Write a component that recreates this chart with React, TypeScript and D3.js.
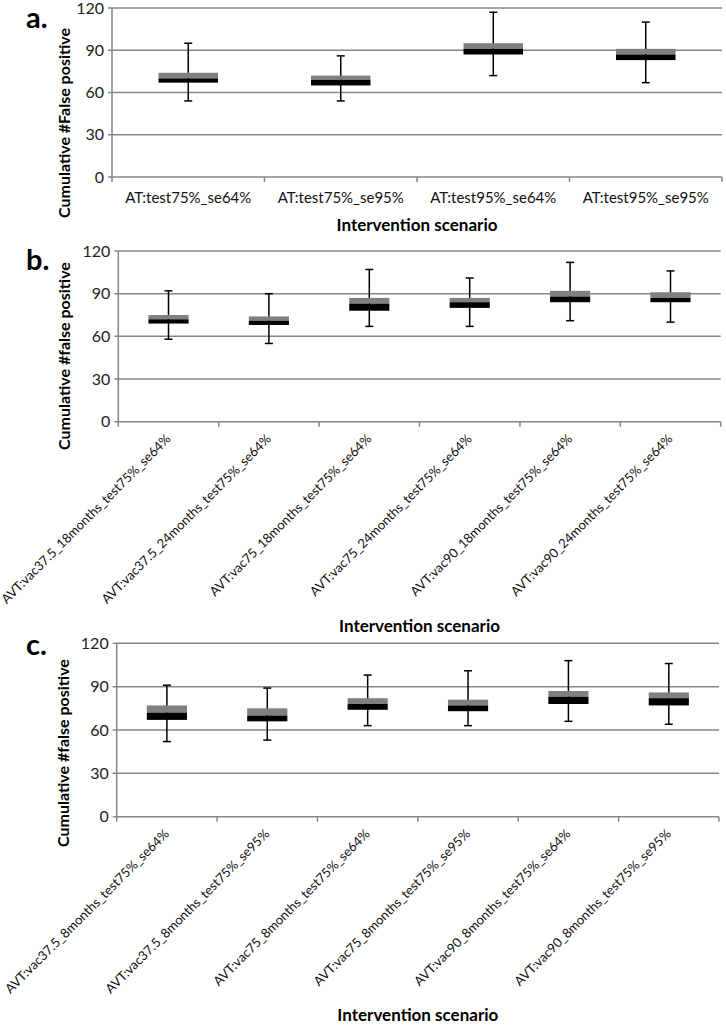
import React from "react";
import * as d3 from "d3";

// ---------- Data ----------
const yTicks = [0, 30, 60, 90, 120];

const catsA = ["AT:test75%_se64%", "AT:test75%_se95%", "AT:test95%_se64%", "AT:test95%_se95%"];
const minA = [54, 54, 72, 67];
const q1A = [67, 65, 87, 83];
const medA = [70, 69, 91, 87];
const q3A = [74, 72, 95, 91];
const maxA = [95, 86, 117, 110];

const catsB = [
  "AVT:vac37.5_18months_test75%_se64%",
  "AVT:vac37.5_24months_test75%_se64%",
  "AVT:vac75_18months_test75%_se64%",
  "AVT:vac75_24months_test75%_se64%",
  "AVT:vac90_18months_test75%_se64%",
  "AVT:vac90_24months_test75%_se64%",
];
const minB = [58, 55, 67, 67, 71, 70];
const q1B = [69, 68, 78, 80, 84, 84];
const medB = [72, 71, 83, 84, 88, 87];
const q3B = [75, 74, 87, 87, 92, 91];
const maxB = [92, 90, 107, 101, 112, 106];

const catsC = [
  "AVT:vac37.5_8months_test75%_se64%",
  "AVT:vac37.5_8months_test75%_se95%",
  "AVT:vac75_8months_test75%_se64%",
  "AVT:vac75_8months_test75%_se95%",
  "AVT:vac90_8months_test75%_se64%",
  "AVT:vac90_8months_test75%_se95%",
];
const minC = [52, 53, 63, 63, 66, 64];
const q1C = [67, 66, 74, 73, 78, 77];
const medC = [72, 70, 78, 77, 83, 82];
const q3C = [77, 75, 82, 81, 87, 86];
const maxC = [91, 89, 98, 101, 108, 106];

const FONT = "Lato, 'Open Sans', sans-serif";
const GRID = "#868686";
const GREY = "#808080";

type PanelProps = {
  letter: string;
  cats: string[];
  mins: number[];
  q1s: number[];
  meds: number[];
  q3s: number[];
  maxs: number[];
  left: number;
  right: number;
  top: number;
  bottom: number;
  rotated: boolean;
  yTitle: string;
  yTitleCenter: number;
  yTitleX: number;
  xTitleY: number;
  letterY: number;
  boxFrac: number;
};

function Panel(p: PanelProps) {
  const x = d3.scaleBand<string>().domain(p.cats).range([p.left, p.right]).paddingInner(0).paddingOuter(0);
  const y = d3.scaleLinear().domain([0, 120]).range([p.bottom, p.top]);
  const bw = x.bandwidth() * p.boxFrac;
  const boundaries = [...p.cats.map((c) => x(c) as number), p.right];
  const capW = 8;

  return (
    <g>
      <text x={26} y={p.letterY} fontFamily={FONT} fontWeight="bold" fontSize={29} fill="#000">
        {p.letter}
      </text>
      {/* gridlines */}
      {yTicks.map((t) => (
        <g key={t}>
          <line x1={p.left - 4} x2={p.right} y1={y(t)} y2={y(t)} stroke={GRID} strokeWidth={1.5} />
          <text
            x={p.left - 8}
            y={y(t)}
            dy="0.35em"
            textAnchor="end"
            fontFamily={FONT}
            fontSize={16}
            fill="#222"
          >
            {t}
          </text>
        </g>
      ))}
      {/* y axis line */}
      <line x1={p.left} x2={p.left} y1={p.top} y2={p.bottom} stroke={GRID} strokeWidth={1.5} />
      {/* category ticks */}
      {boundaries.map((b, i) => (
        <line key={i} x1={b} x2={b} y1={p.bottom} y2={p.bottom + 5} stroke={GRID} strokeWidth={1.5} />
      ))}
      {/* whiskers */}
      {p.cats.map((c, i) => {
        const cx = (x(c) as number) + x.bandwidth() / 2;
        return (
          <g key={"w" + i} stroke="#000" strokeWidth={1.5}>
            <line x1={cx} x2={cx} y1={y(p.maxs[i])} y2={y(p.mins[i])} />
            <line x1={cx - capW / 2} x2={cx + capW / 2} y1={y(p.maxs[i])} y2={y(p.maxs[i])} />
            <line x1={cx - capW / 2} x2={cx + capW / 2} y1={y(p.mins[i])} y2={y(p.mins[i])} />
          </g>
        );
      })}
      {/* boxes */}
      {p.cats.map((c, i) => {
        const cx = (x(c) as number) + x.bandwidth() / 2;
        return (
          <g key={"b" + i}>
            <rect x={cx - bw / 2} width={bw} y={y(p.q3s[i])} height={y(p.meds[i]) - y(p.q3s[i])} fill={GREY} />
            <rect x={cx - bw / 2} width={bw} y={y(p.meds[i])} height={y(p.q1s[i]) - y(p.meds[i])} fill="#000" />
          </g>
        );
      })}
      {/* category labels */}
      {p.cats.map((c, i) => {
        const cx = (x(c) as number) + x.bandwidth() / 2;
        if (!p.rotated) {
          return (
            <text key={"l" + i} x={cx} y={p.bottom + 26} textAnchor="middle" fontFamily={FONT} fontSize={15} fill="#111">
              {c}
            </text>
          );
        }
        const ax = cx + 3;
        const ay = p.bottom + 18;
        return (
          <text
            key={"l" + i}
            x={ax}
            y={ay}
            textAnchor="end"
            transform={`rotate(-45 ${ax} ${ay})`}
            fontFamily={FONT}
            fontSize={13}
            fill="#111"
          >
            {c}
          </text>
        );
      })}
      {/* axis titles */}
      <text
        x={p.yTitleX}
        y={p.yTitleCenter}
        textAnchor="middle"
        transform={`rotate(-90 ${p.yTitleX} ${p.yTitleCenter})`}
        fontFamily={FONT}
        fontWeight="bold"
        fontSize={16}
        fill="#000"
      >
        {p.yTitle}
      </text>
      <text
        x={(p.left + p.right) / 2 + 0}
        y={p.xTitleY}
        textAnchor="middle"
        fontFamily={FONT}
        fontWeight="bold"
        fontSize={17}
        fill="#000"
      >
        Intervention scenario
      </text>
    </g>
  );
}

export default function App() {
  return (
    <svg
      width={726}
      height={1025}
      viewBox="0 0 726 1025"
      style={{ position: "absolute", left: 0, top: 0, background: "#fff" }}
    >
      <rect x={0} y={0} width={726} height={1025} fill="#fff" />
      <Panel
        letter="a."
        cats={catsA}
        mins={minA}
        q1s={q1A}
        meds={medA}
        q3s={q3A}
        maxs={maxA}
        left={112}
        right={722}
        top={8}
        bottom={177}
        rotated={false}
        yTitle="Cumulative #False positive"
        yTitleCenter={123}
        yTitleX={70}
        xTitleY={231}
        letterY={28}
        boxFrac={0.39}
      />
      <Panel
        letter="b."
        cats={catsB}
        mins={minB}
        q1s={q1B}
        meds={medB}
        q3s={q3B}
        maxs={maxB}
        left={118.3}
        right={720.7}
        top={251}
        bottom={421.7}
        rotated={true}
        yTitle="Cumulative #false positive"
        yTitleCenter={356}
        yTitleX={70}
        xTitleY={632}
        letterY={270}
        boxFrac={0.4}
      />
      <Panel
        letter="c."
        cats={catsC}
        mins={minC}
        q1s={q1C}
        meds={medC}
        q3s={q3C}
        maxs={maxC}
        left={116.7}
        right={719}
        top={643.3}
        bottom={816.7}
        rotated={true}
        yTitle="Cumulative #false positive"
        yTitleCenter={753}
        yTitleX={69}
        xTitleY={1021}
        letterY={655}
        boxFrac={0.4}
      />
    </svg>
  );
}
